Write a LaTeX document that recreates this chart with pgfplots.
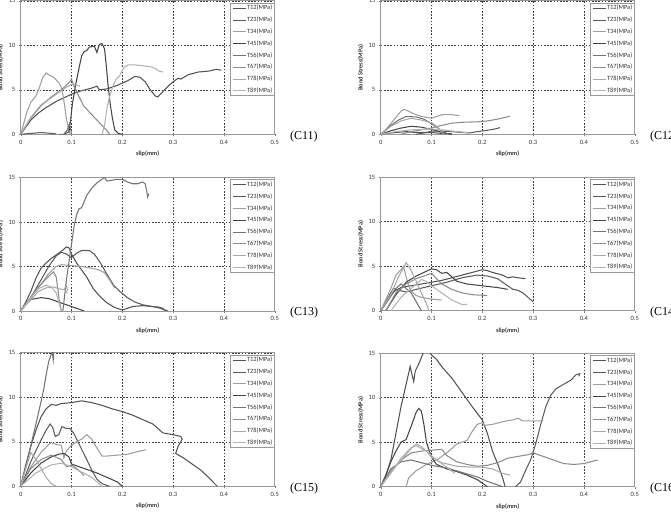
\documentclass[border=0pt]{standalone}
\usepackage{pgfplots}
\pgfplotsset{compat=1.18}
\usepackage{fontspec}
\setmainfont{Carlito}
\newfontfamily\serifc{Liberation Serif}
\definecolor{s12}{gray}{0.32}
\definecolor{s23}{gray}{0.36}
\definecolor{s34}{gray}{0.62}
\definecolor{s45}{gray}{0.27}
\definecolor{s56}{gray}{0.45}
\definecolor{s67}{gray}{0.55}
\definecolor{s78}{gray}{0.66}
\definecolor{s89}{gray}{0.70}
\tikzset{lab/.style={font=\serifc\fontsize{12}{12}\selectfont, anchor=west}}
\pgfplotsset{
  panel/.style={
    scale only axis, width=254pt, height=133.5pt, anchor=south west,
    xmin=0, xmax=0.5, ymin=0, ymax=15, clip mode=individual,
    xtick={0,0.1,0.2,0.3,0.4,0.5}, xticklabels={0,0.1,0.2,0.3,0.4,0.5},
    ytick={0,5,10,15},
    grid=major, major grid style={dash pattern=on 1.6pt off 1.6pt, black!75, line width=0.5pt},
    axis line style={gray!80, line width=0.7pt},
    tick style={gray}, major tick length=2pt, tick align=outside, tick pos=left,
    ticklabel style={font=\fontsize{6.5}{7}\selectfont, text=black!80},
    /pgf/number format/assume math mode=true,
    xlabel={slip(mm)}, ylabel={Bond Stress(MPa)},
    label style={font=\bfseries\fontsize{6.3}{7}\selectfont, text=black!80},
    xlabel style={at={(axis description cs:0.5,-0.148)}, anchor=center},
    ylabel style={at={(axis description cs:-0.079,0.5)}, anchor=center},
    every axis plot/.append style={line width=1.05pt, no markers},
    legend style={at={(axis description cs:1,0.985)}, anchor=north east,
      draw=gray!80, line width=1pt, inner sep=1.5pt,
      font=\fontsize{6.4}{7}\selectfont, text=black!80,
      row sep=4.9pt,
      nodes={inner sep=0.5pt, text height=4.6pt, text depth=1.3pt}},
    legend cell align=left,
    legend image code/.code={\draw[#1] (0pt,0pt) -- (13pt,0pt);},
  },
}
\newcommand\leg{\legend{T12(MPa),T23(MPa),T34(MPa),T45(MPa),T56(MPa),T67(MPa),T78(MPa),T89(MPa)}}
\begin{document}
\begin{tikzpicture}
\path[use as bounding box] (0pt,0pt) rectangle (671pt,516pt);
% ---------------- C11
\begin{axis}[panel, at={(20.7pt,381.7pt)}]
\addplot[s12] coordinates {(0,0)(0.01,0.8)(0.02,1.6)(0.035,2.4)(0.05,3.0)(0.07,3.7)(0.1,4.5)(0.12,4.9)(0.14,5.2)(0.15,5.4)(0.155,5.0)(0.17,5.1)(0.19,5.5)(0.21,6.0)(0.225,6.5)(0.235,6.4)(0.245,5.9)(0.255,5.0)(0.265,4.3)(0.27,4.2)(0.28,4.8)(0.29,5.4)(0.3,5.9)(0.31,6.3)(0.315,6.2)(0.33,6.7)(0.35,7.0)(0.37,7.1)(0.385,7.3)(0.395,7.2)};
\addplot[s23] coordinates {(0,0)(0.02,0.1)(0.04,0.2)(0.06,0.1)(0.07,0.05)};
\addplot[s34] coordinates {(0,0)(0.005,1)(0.012,2.5)(0.02,3.6)(0.03,4.3)(0.037,5.3)(0.043,6.3)(0.05,6.9)(0.055,6.7)(0.065,6.4)(0.075,5.8)(0.08,5.3)(0.083,4.5)(0.087,3.0)(0.09,1.8)(0.094,0.6)(0.097,0)};
\addplot[s45] coordinates {(0.085,0)(0.092,0.2)(0.095,0.3)(0.098,1.5)(0.102,3.5)(0.108,5.5)(0.115,7.5)(0.12,8.8)(0.125,9.3)(0.13,9.4)(0.135,9.8)(0.145,9.9)(0.15,9.2)(0.155,10.1)(0.16,10.2)(0.165,9.6)(0.168,8)(0.172,5.5)(0.176,3.5)(0.18,2)(0.185,0.5)(0.192,0.1)(0.2,0)};
\addplot[s56] coordinates {(0.075,0)(0.085,0)(0.092,0.5)(0.096,1.2)(0.099,0.4)(0.1,0)};
\addplot[s67] coordinates {(0,0)(0.02,1.8)(0.04,3.2)(0.06,4.2)(0.08,5.0)(0.095,5.8)(0.1,6.2)(0.105,5.4)(0.115,4.2)(0.124,3.2)(0.135,2.5)(0.15,1.6)(0.16,1.0)(0.17,0.4)(0.175,0)};
\addplot[s78] coordinates {(0,0)(0.02,1.9)(0.04,3.3)(0.06,4.1)(0.075,4.7)(0.09,5.3)(0.1,5.6)(0.11,5.5)(0.117,5.4)};
\addplot[s89] coordinates {(0.16,0)(0.165,1.0)(0.17,3.0)(0.175,4.2)(0.182,5.5)(0.188,6.2)(0.195,6.6)(0.2,7.2)(0.205,7.6)(0.212,7.8)(0.225,7.8)(0.24,7.7)(0.255,7.6)(0.265,7.4)(0.272,7.1)(0.28,7.0)};
\leg
\node[lab] at (axis description cs:1.047,-0.015) {(C11)};
\end{axis}
% ---------------- C12
\begin{axis}[panel, at={(380.7pt,381.7pt)}]
\addplot[s12] coordinates {(0,0)(0.01,0.1)(0.03,0.2)(0.05,0.3)(0.07,0.2)(0.1,0.2)(0.12,0.1)(0.14,0.05)};
\addplot[s23] coordinates {(0.07,0)(0.09,0.2)(0.1,0.35)(0.12,0.35)(0.14,0.3)(0.16,0.2)(0.175,0.15)(0.19,0.3)(0.21,0.45)(0.225,0.6)(0.235,0.75)};
\addplot[s34] coordinates {(0,0)(0.01,0.5)(0.02,1.2)(0.03,1.9)(0.04,2.6)(0.046,2.8)(0.055,2.6)(0.065,2.3)(0.08,2.0)(0.09,1.9)(0.1,1.8)(0.11,2.0)(0.12,2.2)(0.14,2.2)(0.155,2.1)};
\addplot[s45] coordinates {(0,0)(0.02,0.4)(0.04,0.7)(0.06,0.9)(0.08,0.8)(0.1,0.55)(0.115,0.3)(0.13,0.1)(0.14,0)};
\addplot[s56] coordinates {(0,0)(0.02,1.0)(0.035,1.6)(0.05,2.0)(0.07,1.95)(0.085,1.7)(0.1,1.2)(0.11,0.8)(0.12,0.4)(0.13,0.1)(0.135,0)};
\addplot[s67] coordinates {(0.04,0)(0.06,0.3)(0.08,0.5)(0.1,0.7)(0.12,1.0)(0.14,1.25)(0.16,1.35)(0.19,1.4)(0.21,1.5)(0.23,1.7)(0.245,1.9)(0.255,2.05)};
\addplot[s78] coordinates {(0,0)(0.02,0.9)(0.04,1.5)(0.06,1.8)(0.08,1.6)(0.1,1.3)(0.11,0.9)(0.12,0.3)(0.125,0)};
\addplot[s89] coordinates {(0,0)(0.03,0.3)(0.06,0.5)(0.1,0.6)(0.12,0.5)(0.15,0.3)(0.17,0.2)};
\leg
\node[lab] at (axis description cs:1.047,-0.015) {(C12)};
\end{axis}
% ---------------- C13
\begin{axis}[panel, at={(20.7pt,205pt)}]
\addplot[s12] coordinates {(0,0)(0.01,1)(0.02,2.2)(0.03,3.7)(0.04,4.8)(0.05,5.4)(0.06,5.9)(0.07,6.3)(0.08,6.7)(0.09,7.2)(0.095,7.1)(0.1,6.4)(0.11,5.4)(0.12,4.6)(0.13,3.8)(0.143,2.5)(0.155,1.7)(0.17,0.9)(0.185,0.4)(0.2,0.1)(0.205,0.2)(0.22,0.5)(0.24,0.6)(0.26,0.5)(0.27,0.45)(0.28,0.3)(0.285,0)};
\addplot[s23] coordinates {(0,0)(0.02,1.5)(0.04,3.5)(0.055,5.0)(0.07,6.2)(0.08,6.6)(0.09,6.4)(0.1,6.0)(0.11,6.5)(0.12,6.8)(0.135,6.8)(0.145,6.4)(0.157,5.4)(0.17,4.1)(0.183,2.9)(0.195,2.2)(0.21,1.5)(0.225,1.0)(0.24,0.7)(0.26,0.5)(0.275,0.3)(0.29,0)};
\addplot[s34] coordinates {(0,0)(0.02,1.5)(0.04,3.0)(0.055,4.2)(0.07,5.0)(0.08,5.2)(0.1,5.1)(0.12,5.0)(0.14,4.8)(0.155,4.6)(0.165,4.3)(0.175,3.5)(0.18,3.0)(0.185,2.6)};
\addplot[s45] coordinates {(0,0)(0.01,0.8)(0.02,1.3)(0.04,1.5)(0.055,1.4)(0.07,1.1)(0.09,0.7)(0.1,0.5)(0.115,0.2)(0.125,0)};
\addplot[s56] coordinates {(0.083,0)(0.086,1.5)(0.09,3.5)(0.095,5.5)(0.1,7.5)(0.105,9.5)(0.11,10.8)(0.115,11.5)(0.12,11.6)(0.125,12.3)(0.13,13.0)(0.14,13.8)(0.15,14.4)(0.16,14.8)(0.165,15.0)(0.17,14.6)(0.18,14.7)(0.19,14.8)(0.2,14.8)(0.21,14.5)(0.22,14.3)(0.23,14.3)(0.24,14.5)(0.245,14.3)(0.248,13.5)(0.25,12.8)(0.252,13.2)};
\addplot[s67] coordinates {(0,0)(0.015,1.2)(0.03,2.4)(0.045,3.3)(0.055,3.9)(0.065,4.4)(0.07,3.8)(0.073,2.5)(0.076,1.2)(0.08,0)};
\addplot[s78] coordinates {(0,0)(0.02,1.3)(0.035,2.2)(0.05,2.6)(0.065,2.7)(0.075,2.5)(0.085,2.4)(0.09,2.8)(0.092,2.4)(0.09,2.0)};
\addplot[s89] coordinates {(0,0)(0.02,1.5)(0.035,2.5)(0.05,2.9)(0.06,2.7)(0.07,2.0)(0.075,1.0)(0.08,0)};
\leg
\node[lab] at (axis description cs:1.047,-0.015) {(C13)};
\end{axis}
% ---------------- C14
\begin{axis}[panel, at={(380.7pt,205.3pt)}]
\addplot[s12] coordinates {(0,0)(0.01,0.8)(0.02,1.8)(0.03,2.3)(0.04,2.6)(0.06,2.8)(0.08,3.0)(0.1,3.2)(0.12,3.4)(0.14,3.7)(0.16,4.0)(0.18,4.3)(0.2,4.6)(0.21,4.5)(0.22,4.3)(0.24,4.0)(0.25,3.7)(0.26,3.8)(0.27,3.7)(0.285,3.6)};
\addplot[s23] coordinates {(0,0)(0.015,1.5)(0.025,2.5)(0.035,2.3)(0.05,2.1)(0.07,2.4)(0.1,2.8)(0.13,3.2)(0.16,3.7)(0.19,4.0)(0.21,3.9)(0.23,3.6)(0.25,2.8)(0.26,2.4)(0.27,2.3)(0.28,2.0)(0.29,1.5)(0.3,1.0)};
\addplot[s34] coordinates {(0,0)(0.02,2.5)(0.03,4.0)(0.04,4.6)(0.045,5.0)(0.05,3.8)(0.055,2.8)(0.06,2.2)(0.07,1.7)(0.08,1.5)(0.1,1.3)(0.12,1.2)};
\addplot[s45] coordinates {(0.01,0)(0.03,1.8)(0.05,3.2)(0.07,3.9)(0.085,4.3)(0.1,4.7)(0.11,4.6)(0.12,4.2)(0.13,4.3)(0.14,3.8)(0.15,3.3)(0.17,3.0)(0.2,2.8)(0.23,2.6)(0.25,2.4)};
\addplot[s56] coordinates {(0,0)(0.015,1.2)(0.03,2.5)(0.04,3.0)(0.06,2.0)(0.07,1.0)(0.08,0)};
\addplot[s67] coordinates {(0.01,0)(0.03,2.0)(0.05,3.0)(0.07,3.6)(0.09,4.0)(0.1,4.2)(0.11,3.6)(0.12,3.0)(0.14,2.4)(0.16,2.0)(0.18,1.8)(0.21,1.7)};
\addplot[s78] coordinates {(0,0)(0.02,1.8)(0.035,3.8)(0.045,4.8)(0.05,5.4)(0.055,5.0)(0.06,4.5)(0.07,3.3)(0.08,2.0)(0.09,0.8)(0.095,0)};
\addplot[s89] coordinates {(0.02,0)(0.04,1.5)(0.06,2.5)(0.08,3.5)(0.09,3.3)(0.1,2.8)(0.12,2.0)(0.14,1.2)(0.16,0.7)(0.17,0.7)};
\leg
\node[lab] at (axis description cs:1.047,-0.015) {(C14)};
\end{axis}
% ---------------- C15
\begin{axis}[panel, at={(20.7pt,29.7pt)}]
\addplot[s12] coordinates {(0,0)(0.005,1.2)(0.01,2.4)(0.02,4.5)(0.03,6.3)(0.04,7.8)(0.05,8.7)(0.06,9.2)(0.07,9.1)(0.08,9.3)(0.1,9.4)(0.12,9.6)(0.14,9.4)(0.16,9.1)(0.18,8.7)(0.2,8.4)(0.22,8.0)(0.24,7.5)(0.26,7.0)(0.27,6.5)(0.28,6.0)(0.3,5.8)(0.315,5.6)(0.318,5.3)(0.31,4.5)(0.305,3.7)(0.32,3.2)(0.34,2.4)(0.355,1.8)(0.37,1.0)(0.38,0.4)(0.387,0)};
\addplot[s23] coordinates {(0,0)(0.01,1.3)(0.02,2.8)(0.03,4.0)(0.04,5.2)(0.05,6.3)(0.058,7.0)(0.063,6.6)(0.068,5.6)(0.075,5.8)(0.081,6.7)(0.09,6.5)(0.097,6.5)(0.105,5.9)(0.117,4.5)(0.13,3.0)(0.14,1.8)(0.15,0.8)(0.16,0.3)(0.175,0)};
\addplot[s34] coordinates {(0,0)(0.02,2.2)(0.04,3.8)(0.055,4.7)(0.06,4.9)(0.07,4.7)(0.08,4.6)(0.085,3.2)(0.09,4.0)(0.1,4.6)(0.11,5.0)(0.12,5.3)(0.13,5.8)(0.14,5.3)(0.15,4.3)(0.16,3.4)(0.17,3.4)(0.19,3.5)(0.21,3.6)(0.23,3.9)(0.247,4.1)};
\addplot[s45] coordinates {(0,0)(0.02,1.5)(0.04,2.6)(0.06,3.3)(0.075,3.6)(0.085,3.7)(0.095,3.3)(0.1,2.5)(0.11,2.3)(0.13,1.9)(0.15,1.5)(0.17,1.0)(0.19,0.5)(0.2,0)};
\addplot[s56] coordinates {(0,0)(0.01,2.2)(0.02,4.6)(0.03,7.0)(0.04,9.5)(0.045,10.8)(0.05,12.5)(0.055,14.0)(0.06,14.8)(0.062,15.2)(0.064,14.2)(0.066,15.5)};
\addplot[s67] coordinates {(0,0)(0.02,2.0)(0.04,3.0)(0.06,3.5)(0.08,3.0)(0.09,2.2)(0.1,2.4)(0.11,2.0)(0.12,1.5)(0.124,1.2)};
\addplot[s78] coordinates {(0,0)(0.01,2.0)(0.02,3.8)(0.03,3.0)(0.04,2.0)(0.05,1.0)(0.06,0.3)(0.07,0)};
\addplot[s89] coordinates {(0,0)(0.03,1.5)(0.06,2.4)(0.08,2.6)(0.1,2.2)(0.12,1.6)(0.14,1.0)(0.15,0.5)(0.16,0)};
\leg
\node[lab] at (axis description cs:1.047,-0.015) {(C15)};
\end{axis}
% ---------------- C16
\begin{axis}[panel, at={(380.7pt,29.3pt)}]
\addplot[s12] coordinates {(0,0)(0.01,1.2)(0.02,3.0)(0.03,6.0)(0.04,9.0)(0.05,11.5)(0.058,13.5)(0.062,12.5)(0.065,11.8)(0.068,13.0)(0.075,13.8)(0.08,14.5)(0.085,15.2)(0.09,15.6)(0.1,14.8)(0.11,14.3)(0.12,13.5)(0.14,12.2)(0.16,10.6)(0.18,9.0)(0.2,7.5)(0.21,6.0)(0.22,4.0)(0.23,2.6)(0.24,1.0)(0.245,0)};
\addplot[s23] coordinates {(0.265,0)(0.275,0.5)(0.285,1.8)(0.295,3.0)(0.305,4.8)(0.315,7.0)(0.325,9.0)(0.335,10.3)(0.345,11.0)(0.36,11.5)(0.375,12.0)(0.385,12.6)(0.392,12.7)(0.39,12.4)};
\addplot[s34] coordinates {(0.05,0)(0.055,1.0)(0.07,1.8)(0.09,2.5)(0.11,3.0)(0.13,3.8)(0.15,4.8)(0.17,5.2)(0.18,6.2)(0.19,7.0)(0.2,7.2)(0.205,6.9)(0.22,7.0)(0.24,7.3)(0.26,7.5)(0.27,7.7)(0.28,7.4)(0.3,7.4)(0.32,7.4)};
\addplot[s45] coordinates {(0,0)(0.01,1.3)(0.02,2.8)(0.03,4.0)(0.04,5.0)(0.05,5.3)(0.06,6.8)(0.07,8.4)(0.075,8.8)(0.08,8.5)(0.085,7.0)(0.09,5.0)(0.1,3.3)(0.11,2.5)(0.13,2.0)(0.15,1.7)(0.17,1.3)(0.19,0.8)(0.2,0.4)(0.21,0)};
\addplot[s56] coordinates {(0,0)(0.02,2.0)(0.04,2.8)(0.06,3.0)(0.08,2.7)(0.1,2.4)(0.13,2.1)(0.16,1.6)(0.19,1.1)(0.21,0.6)(0.23,0.2)(0.24,0)};
\addplot[s67] coordinates {(0,0)(0.02,1.8)(0.04,3.0)(0.06,3.8)(0.08,4.0)(0.1,4.1)(0.12,4.2)(0.13,3.5)(0.15,2.8)(0.17,2.5)(0.19,2.3)(0.21,2.4)(0.23,2.7)(0.25,3.2)(0.27,3.4)(0.29,3.6)(0.3,3.8)(0.32,3.4)(0.34,3.0)(0.36,2.6)(0.38,2.5)(0.4,2.6)(0.42,2.9)(0.427,3.0)};
\addplot[s78] coordinates {(0,0)(0.02,1.6)(0.04,3.0)(0.06,4.3)(0.07,4.8)(0.08,4.5)(0.09,4.0)(0.1,3.3)(0.12,2.7)(0.15,2.3)(0.18,2.2)(0.2,2.2)(0.22,2.0)(0.24,1.5)(0.255,1.3)};
\addplot[s89] coordinates {(0,0)(0.02,1.5)(0.04,3.2)(0.06,4.4)(0.07,4.6)(0.09,4.0)(0.11,3.0)(0.13,2.2)(0.146,1.5)};
\leg
\node[lab] at (axis description cs:1.047,-0.015) {(C16)};
\end{axis}
\end{tikzpicture}
\end{document}
